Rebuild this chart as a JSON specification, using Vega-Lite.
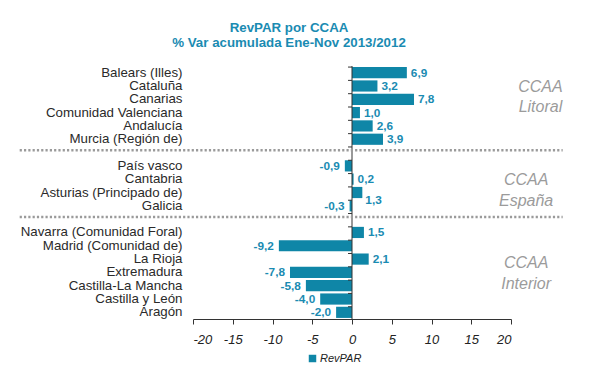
{
  "$schema": "https://vega.github.io/schema/vega-lite/v6.json",
  "width": 318,
  "height": 253,
  "autosize": {"type": "none"},
  "padding": {"left": 193, "top": 66, "right": 90, "bottom": 68},
  "title": {
    "text": ["RevPAR por CCAA", "% Var acumulada Ene-Nov 2013/2012"],
    "fontSize": 13.3,
    "fontWeight": "bold",
    "color": "#1a8bb2",
    "font": "Liberation Sans",
    "anchor": "middle",
    "dx": -63,
    "lineHeight": 14.5,
    "offset": 16
  },
  "config": {
    "view": {"stroke": null},
    "font": "Liberation Sans",
    "locale": {"number": {"decimal": ",", "thousands": ".", "grouping": [3], "currency": ["", " €"], "minus": "-"}}
  },
  "resolve": {"axis": {"x": "independent", "y": "independent"}},
  "datasets": {
    "ccaa": [
      {"name": "Balears (Illes)", "value": 6.9},
      {"name": "Cataluña", "value": 3.2},
      {"name": "Canarias", "value": 7.8},
      {"name": "Comunidad Valenciana", "value": 1.0},
      {"name": "Andalucía", "value": 2.6},
      {"name": "Murcia (Región de)", "value": 3.9},
      {"name": "País vasco", "value": -0.9},
      {"name": "Cantabria", "value": 0.2},
      {"name": "Asturias (Principado de)", "value": 1.3},
      {"name": "Galicia", "value": -0.3},
      {"name": "Navarra (Comunidad Foral)", "value": 1.5},
      {"name": "Madrid (Comunidad de)", "value": -9.2},
      {"name": "La Rioja", "value": 2.1},
      {"name": "Extremadura", "value": -7.8},
      {"name": "Castilla-La Mancha", "value": -5.8},
      {"name": "Castilla y León", "value": -4.0},
      {"name": "Aragón", "value": -2.0}
    ],
    "seps": [
      {"name": "sep1", "value": -41.8, "x1": 26.5},
      {"name": "sep2", "value": -41.8, "x1": 26.5}
    ],
    "zero": [{"value": 0}],
    "groups": [
      {"name": "Cataluña", "value": 23.7, "group": "CCAA\nLitoral"},
      {"name": "Cantabria", "value": 21.9, "group": "CCAA\nEspaña"},
      {"name": "La Rioja", "value": 21.9, "group": "CCAA\nInterior"}
    ]
  },
  "layer": [
    {
      "data": {"name": "ccaa"},
      "mark": {"type": "bar", "color": "#0f86a7"},
      "encoding": {
        "y": {
          "field": "name",
          "type": "nominal",
          "title": null,
          "scale": {
            "domain": ["Balears (Illes)", "Cataluña", "Canarias", "Comunidad Valenciana", "Andalucía", "Murcia (Región de)", "sep1", "País vasco", "Cantabria", "Asturias (Principado de)", "Galicia", "sep2", "Navarra (Comunidad Foral)", "Madrid (Comunidad de)", "La Rioja", "Extremadura", "Castilla-La Mancha", "Castilla y León", "Aragón"],
            "paddingInner": 0.16,
            "paddingOuter": 0.08
          },
          "axis": {
            "title": null,
            "domain": false,
            "ticks": false,
            "labelPadding": 11,
            "labelFontSize": 13.3,
            "labelColor": "#2a2a2a",
            "labelLimit": 300,
            "labelExpr": "indexof(datum.value,'sep')==0 ? '' : datum.value"
          }
        },
        "x": {
          "field": "value",
          "type": "quantitative",
          "title": null,
          "scale": {"domain": [-20, 20], "nice": false},
          "axis": {
            "title": null,
            "values": [-20, -15, -10, -5, 0, 5, 10, 15, 20],
            "format": "d",
            "grid": false,
            "domainColor": "#333333",
            "tickColor": "#333333",
            "tickSize": 5,
            "labelPadding": 9,
            "labelFontSize": 13,
            "labelFontStyle": "italic",
            "labelColor": "#222222"
          }
        },
        "color": {
          "datum": "RevPAR",
          "scale": {"range": ["#0f86a7"]},
          "legend": {
            "title": null,
            "orient": "none",
            "legendX": 114,
            "legendY": 287,
            "symbolType": "square",
            "symbolSize": 56,
            "symbolStrokeWidth": 0,
            "labelFontSize": 11,
            "labelFontStyle": "italic",
            "labelColor": "#222222",
            "labelOffset": 2,
            "padding": 0
          }
        }
      }
    },
    {
      "data": {"name": "zero"},
      "mark": {"type": "rule", "color": "#333333", "strokeWidth": 1},
      "encoding": {
        "x": {"field": "value", "type": "quantitative", "axis": null}
      }
    },
    {
      "data": {"name": "ccaa"},
      "mark": {"type": "rule", "color": "#333333", "strokeWidth": 1},
      "encoding": {
        "y": {"field": "name", "type": "nominal", "bandPosition": 0, "axis": null},
        "x": {"datum": -0.5, "type": "quantitative", "axis": null},
        "x2": {"datum": 0}
      }
    },
    {
      "data": {"name": "seps"},
      "mark": {"type": "rule", "color": "#333333", "strokeWidth": 1},
      "encoding": {
        "y": {"field": "name", "type": "nominal", "bandPosition": 0, "axis": null},
        "x": {"datum": -0.5, "type": "quantitative", "axis": null},
        "x2": {"datum": 0}
      }
    },
    {
      "data": {"name": "ccaa"},
      "transform": [{"filter": "datum.value >= 0 && datum.name !== 'Asturias (Principado de)'"}],
      "mark": {"type": "text", "align": "left", "baseline": "middle", "dx": 4, "fontSize": 11.8, "fontWeight": "bold", "color": "#1a8bb2"},
      "encoding": {
        "y": {"field": "name", "type": "nominal", "axis": null},
        "x": {"field": "value", "type": "quantitative", "axis": null},
        "text": {"field": "value", "type": "quantitative", "format": ".1f"}
      }
    },
    {
      "data": {"name": "ccaa"},
      "transform": [{"filter": "datum.name === 'Asturias (Principado de)'"}],
      "mark": {"type": "text", "align": "left", "baseline": "middle", "dx": 3, "dy": 7, "fontSize": 11.8, "fontWeight": "bold", "color": "#1a8bb2"},
      "encoding": {
        "y": {"field": "name", "type": "nominal", "axis": null},
        "x": {"field": "value", "type": "quantitative", "axis": null},
        "text": {"field": "value", "type": "quantitative", "format": ".1f"}
      }
    },
    {
      "data": {"name": "ccaa"},
      "transform": [{"filter": "datum.value < 0"}],
      "mark": {"type": "text", "align": "right", "baseline": "middle", "dx": -5, "fontSize": 11.8, "fontWeight": "bold", "color": "#1a8bb2"},
      "encoding": {
        "y": {"field": "name", "type": "nominal", "axis": null},
        "x": {"field": "value", "type": "quantitative", "axis": null},
        "text": {"field": "value", "type": "quantitative", "format": ".1f"}
      }
    },
    {
      "data": {"name": "seps"},
      "mark": {"type": "rule", "color": "#9a9a9a", "strokeWidth": 2.5, "strokeDash": [2.2, 2.1], "clip": false},
      "encoding": {
        "y": {"field": "name", "type": "nominal", "bandPosition": 0.3, "axis": null},
        "x": {"field": "value", "type": "quantitative", "axis": null},
        "x2": {"field": "x1"}
      }
    },
    {
      "data": {"name": "groups"},
      "transform": [{"filter": "datum.name !== 'La Rioja'"}],
      "mark": {"type": "text", "align": "center", "baseline": "middle", "lineBreak": "\n", "lineHeight": 20.5, "fontSize": 16, "fontStyle": "italic", "color": "#9b9b9b", "dy": 1, "clip": false},
      "encoding": {
        "y": {"field": "name", "type": "nominal", "axis": null},
        "x": {"field": "value", "type": "quantitative", "axis": null},
        "text": {"field": "group", "type": "nominal"}
      }
    },
    {
      "data": {"name": "groups"},
      "transform": [{"filter": "datum.name === 'La Rioja'"}],
      "mark": {"type": "text", "align": "center", "baseline": "middle", "lineBreak": "\n", "lineHeight": 20.5, "fontSize": 16, "fontStyle": "italic", "color": "#9b9b9b", "dy": 4, "clip": false},
      "encoding": {
        "y": {"field": "name", "type": "nominal", "axis": null},
        "x": {"field": "value", "type": "quantitative", "axis": null},
        "text": {"field": "group", "type": "nominal"}
      }
    }
  ]
}
